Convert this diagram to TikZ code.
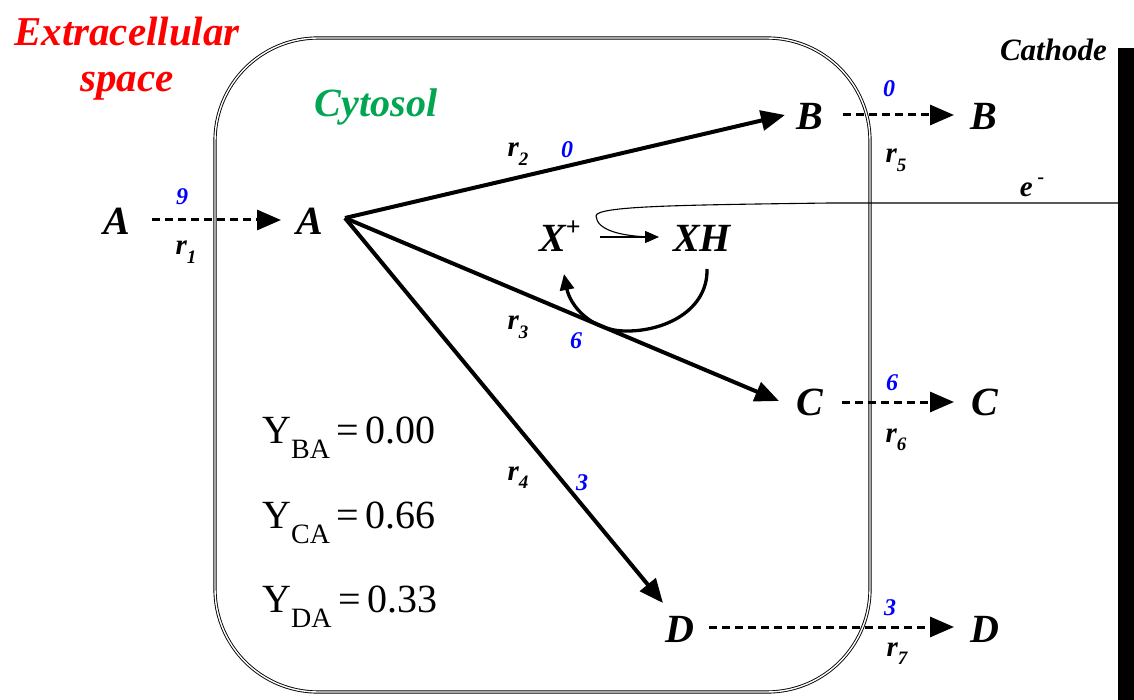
\documentclass[tikz,border=0pt]{standalone}
\usepackage{fontspec}
\setmainfont{Liberation Serif}
\usetikzlibrary{arrows.meta}
\definecolor{numblue}{RGB}{0,0,255}
\definecolor{cytgreen}{RGB}{0,166,81}
\definecolor{exred}{RGB}{255,0,0}
\newcommand{\rsub}[1]{r\raisebox{-0.28em}{\fontsize{19}{19}\selectfont #1}}
\newcommand{\ysub}[2]{Y\raisebox{-0.38em}{\fontsize{28}{28}\selectfont #1}\,=\,#2}
\begin{document}
\begin{tikzpicture}[x=1pt,y=-1pt,
  lbl/.style={font=\fontsize{40}{44}\selectfont\bfseries\itshape, inner sep=0pt, anchor=base},
  rl/.style={font=\fontsize{29}{30}\selectfont\bfseries\itshape, inner sep=0pt, anchor=base},
  num/.style={font=\fontsize{24}{26}\selectfont\bfseries\itshape, text=numblue, inner sep=0pt, anchor=base},
  ytxt/.style={font=\fontsize{40}{44}\selectfont, inner sep=0pt, anchor=base west},
  bigarrow/.style={line width=4pt, -{Triangle[length=24pt,width=20pt]}},
  dasharrow/.style={line width=3pt, dash pattern=on 8pt off 5pt, -{Triangle[length=24pt,width=20pt]}},
  cell/.style={draw=black, line width=0.9pt, double=white, double distance=1.4pt, rounded corners=103pt},
]
\useasboundingbox[fill=white] (0,0) rectangle (1134,700);

% cytosol box
\draw[cell] (215,38) rectangle (870,692);

% cathode
\fill[black] (1118,48) rectangle (1134,700);
\node[font=\fontsize{31}{33}\selectfont\bfseries\itshape, inner sep=0pt, anchor=base east] (cath) at (1107,61) {Cathode};

% titles
\node[lbl, font=\fontsize{41}{44}\selectfont\bfseries\itshape, text=exred] (ext1) at (127,46) {Extracellular};
\node[lbl, font=\fontsize{41}{44}\selectfont\bfseries\itshape, text=exred] (ext2) at (127,92) {space};
\node[lbl, text=cytgreen] (cyt) at (376,117) {Cytosol};

% species
\node[lbl] (Aout) at (117,235) {A};
\node[lbl] (Ain) at (310,235) {A};
\node[lbl] (Bin) at (810,130) {B};
\node[lbl] (Bout) at (984,130) {B};
\node[lbl] (Cin) at (810,415) {C};
\node[lbl] (Cout) at (985,415) {C};
\node[lbl] (Din) at (680,642) {D};
\node[lbl] (Dout) at (985,642) {D};

\coordinate (hub) at (345,218);
\coordinate (tipB) at (785,115);
\coordinate (tipC) at (779,401);
\coordinate (tipD) at (663,603);

% transport arrows
\coordinate (a1s) at (152,220); \coordinate (a1e) at (281,220);
\draw[dasharrow] (a1s) -- (a1e);
\coordinate (b1s) at (843,115); \coordinate (b1e) at (954,115);
\draw[dasharrow] (b1s) -- (b1e);
\coordinate (c1s) at (842,402); \coordinate (c1e) at (954,402);
\draw[dasharrow] (c1s) -- (c1e);
\coordinate (d1s) at (709,627); \coordinate (d1e) at (954,627);
\draw[dasharrow] (d1s) -- (d1e);

% reaction arrows
\draw[bigarrow] (hub) -- (tipB);
\draw[bigarrow] (hub) -- (tipC);
\draw[bigarrow] (hub) -- (tipD);

% rate labels
\node[num] (n1) at (182,205) {9};
\node[rl] (r1) at (186,255) {\rsub{1}};
\node[rl] (r2) at (518,157) {\rsub{2}};
\node[num] (n2) at (567,158) {0};
\node[rl] (r3) at (518,330) {\rsub{3}};
\node[num] (n3) at (576,348) {6};
\node[rl] (r4) at (518,480) {\rsub{4}};
\node[num] (n4) at (582,490) {3};
\node[num] (n5) at (889,97) {0};
\node[rl] (r5) at (896,163) {\rsub{5}};
\node[num] (n6) at (892,390) {6};
\node[rl] (r6) at (896,442) {\rsub{6}};
\node[num] (n7) at (890,615) {3};
\node[rl] (r7) at (897,656) {\rsub{7}};

% X+ -> XH
\node[lbl] (Xp) at (560,252) {X\raisebox{0.42em}{\fontsize{26}{26}\selectfont\bfseries\upshape +}};
\node[lbl] (XH) at (702,252) {XH};
\coordinate (xs) at (600,237); \coordinate (xe) at (659,237);
\draw[line width=1.4pt, -{Triangle[length=14pt,width=12pt]}] (xs) -- (xe);

% electron line
\node[font=\fontsize{29}{30}\selectfont\bfseries\itshape, inner sep=0pt, anchor=base] (em) at (1032,197) {e\,\raisebox{0.45em}{\fontsize{20}{20}\selectfont -}};
\coordinate (cathin) at (1118,203);
\draw[line width=1.1pt] (cathin) -- (830,203) .. controls (680,205) and (596,206) .. (596,216) .. controls (597,230) and (620,236) .. (650,237);

% regeneration arrow
\coordinate (xhb) at (707,269);
\coordinate (xbot) at (624,331);
\coordinate (xpt) at (564,274);
\draw[line width=3.3pt, -{Triangle[length=16pt,width=14pt]}] (xhb) .. controls (708,310) and (665,332) .. (xbot) .. controls (590,330) and (570,305) .. (xpt);

% yields
\node[ytxt] (y1) at (262,443) {\ysub{BA}{0.00}};
\node[ytxt] (y2) at (262,528) {\ysub{CA}{0.66}};
\node[ytxt] (y3) at (262,612) {\ysub{DA}{0.33}};
\end{tikzpicture}
\end{document}
